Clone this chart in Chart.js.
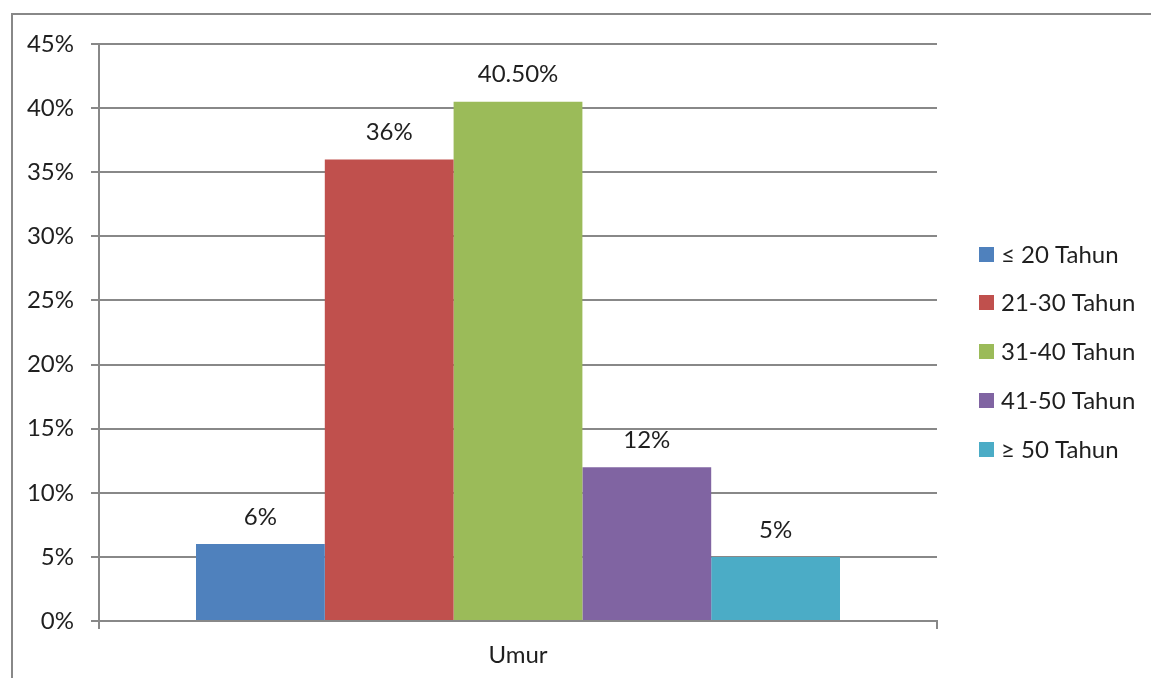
<!DOCTYPE html>
<html>
<head>
<meta charset="utf-8">
<script src="https://cdn.jsdelivr.net/npm/chart.js@4.4.1/dist/chart.umd.min.js"></script>
<style>
  html, body { margin: 0; padding: 0; background: #fff; }
  #wrap { position: relative; width: 1151px; height: 678px; overflow: hidden; }
  #frame { position: absolute; left: 11px; top: 13px; width: 1200px; height: 800px;
           border-top: 2px solid #888; border-left: 2px solid #888; }
  canvas { position: absolute; left: 0; top: 0; }
</style>
</head>
<body>
<div id="wrap">
  <div id="frame"></div>
  <canvas id="c" width="1151" height="678"></canvas>
</div>
<script>
const categories = ["Umur"];
const seriesNames = ["≤ 20 Tahun", "21-30 Tahun", "31-40 Tahun", "41-50 Tahun", "≥ 50 Tahun"];
const seriesValues = [6, 36, 40.5, 12, 5];
const seriesLabels = ["6%", "36%", "40.50%", "12%", "5%"];
const seriesColors = ["#4F81BD", "#C0504D", "#9BBB59", "#8064A2", "#4BACC6"];
const yTicks = [0, 5, 10, 15, 20, 25, 30, 35, 40, 45];

const FONT = "Lato, 'Open Sans', sans-serif";
const FONT_SIZE = 24;
const TEXT = "#1f1f1f";
const GRID = "#888888";

const datasets = seriesNames.map((name, i) => ({
  label: name,
  data: [seriesValues[i]],
  backgroundColor: seriesColors[i],
  borderWidth: 0,
  valueLabel: seriesLabels[i]
}));

const valueLabels = {
  id: 'valueLabels',
  afterDatasetsDraw(chart) {
    const ctx = chart.ctx;
    ctx.save();
    ctx.font = FONT_SIZE + "px " + FONT;
    ctx.fillStyle = TEXT;
    ctx.textAlign = "center";
    ctx.textBaseline = "middle";
    chart.data.datasets.forEach((ds, i) => {
      const meta = chart.getDatasetMeta(i);
      meta.data.forEach(bar => {
        ctx.fillText(ds.valueLabel, bar.x, bar.y - 27);
      });
    });
    ctx.restore();
  }
};

const sideLegend = {
  id: 'sideLegend',
  afterDraw(chart) {
    const ctx = chart.ctx;
    ctx.save();
    ctx.font = FONT_SIZE + "px " + FONT;
    ctx.textBaseline = "middle";
    ctx.textAlign = "left";
    const x0 = 979, y0 = 254, step = 48.75, box = 15;
    chart.data.datasets.forEach((ds, i) => {
      const y = y0 + i * step;
      ctx.fillStyle = ds.backgroundColor;
      ctx.fillRect(x0, Math.round(y - box / 2), box, box);
      ctx.fillStyle = TEXT;
      ctx.fillText(ds.label, 1001, y + 1);
    });
    ctx.restore();
  }
};

new Chart(document.getElementById("c"), {
  type: "bar",
  data: { labels: categories, datasets: datasets },
  plugins: [valueLabels, sideLegend],
  options: {
    responsive: false,
    animation: false,
    devicePixelRatio: 1,
    layout: { padding: { left: 0, top: 44, right: 1151 - 937, bottom: 0 } },
    datasets: { bar: { categoryPercentage: 0.7685, barPercentage: 1.0 } },
    plugins: { legend: { display: false }, tooltip: { enabled: false } },
    scales: {
      x: {
        offset: true,
        afterFit(s) { s.height = 57; },
        grid: { offset: true, drawOnChartArea: false, drawTicks: true, tickLength: 8, color: GRID, lineWidth: 2 },
        border: { display: true, color: GRID, width: 2 },
        ticks: { color: TEXT, font: { family: FONT, size: FONT_SIZE }, padding: 12 }
      },
      y: {
        min: 0, max: 45,
        afterFit(s) { s.width = 99; },
        afterBuildTicks(s) { s.ticks = yTicks.map(v => ({ value: v })); },
        grid: { color: GRID, lineWidth: 2, tickLength: 8 },
        border: { display: true, color: GRID, width: 2 },
        ticks: {
          color: TEXT, font: { family: FONT, size: FONT_SIZE }, padding: 17,
          callback: v => v + "%"
        }
      }
    }
  }
});
</script>
</body>
</html>
